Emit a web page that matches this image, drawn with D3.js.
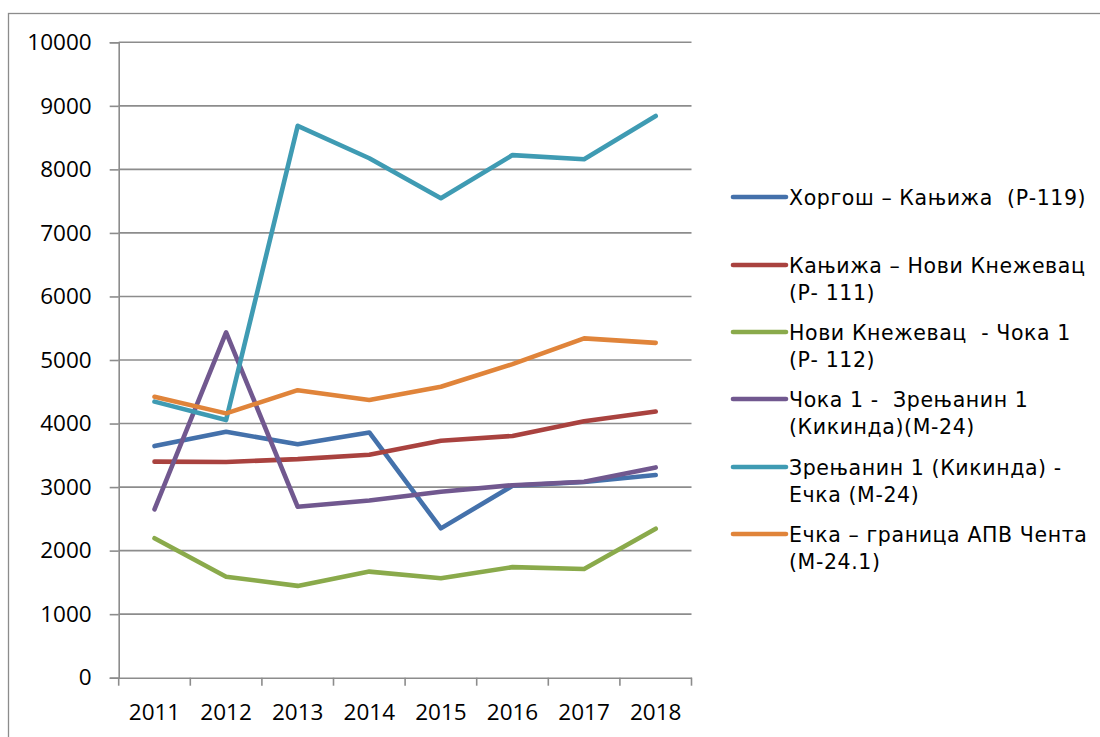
<!DOCTYPE html>
<html>
<head>
<meta charset="utf-8">
<script src="https://cdn.jsdelivr.net/npm/d3@7"></script>
<style>
  html, body { margin: 0; padding: 0; background: #fff; }
  svg { display: block; }
</style>
</head>
<body>
<svg id="chart" width="1100" height="737"></svg>
<script>
// Traffic counts by road section, 2011–2018
const years = ["2011", "2012", "2013", "2014", "2015", "2016", "2017", "2018"];
const yTicks = [0, 1000, 2000, 3000, 4000, 5000, 6000, 7000, 8000, 9000, 10000];

const horgosKanjiza     = [3645, 3870, 3675, 3860, 2350, 3020, 3080, 3190];
const kanjizaNoviKnez   = [3400, 3395, 3440, 3510, 3730, 3805, 4035, 4190];
const noviKnezCoka      = [2195, 1590, 1445, 1670, 1565, 1740, 1710, 2345];
const cokaZrenjanin     = [2650, 5435, 2690, 2790, 2927, 3030, 3085, 3310];
const zrenjaninEcka     = [4345, 4055, 8685, 8175, 7545, 8225, 8160, 8840];
const eckaGranica       = [4420, 4160, 4525, 4370, 4580, 4935, 5340, 5270];

const seriesNames = [
  ["Хоргош – Кањижа  (Р-119)"],
  ["Кањижа – Нови Кнежевац", "(Р- 111)"],
  ["Нови Кнежевац  - Чока 1", "(Р- 112)"],
  ["Чока 1 -  Зрењанин 1", "(Кикинда)(М-24)"],
  ["Зрењанин 1 (Кикинда) -", "Ечка (М-24)"],
  ["Ечка – граница АПВ Чента", "(М-24.1)"]
];
const seriesColors = ["#4471AB", "#A9423F", "#8AAA4B", "#71588F", "#3F9BB3", "#E0843A"];
const seriesValues = [horgosKanjiza, kanjizaNoviKnez, noviKnezCoka, cokaZrenjanin, zrenjaninEcka, eckaGranica];

const svg = d3.select("#chart");
const gridColor = "#8c8c8c";

// outer frame (extends past the right/bottom edges)
svg.append("rect")
  .attr("x", 8.5).attr("y", 13.5)
  .attr("width", 1200).attr("height", 800)
  .attr("fill", "none").attr("stroke", "#8c8c8c").attr("stroke-width", 1.3);

const plot = { left: 118.7, right: 691.5, top: 42.3, bottom: 677.7 };

const x = d3.scaleBand().domain(years).range([plot.left, plot.right]).padding(0);
const y = d3.scaleLinear().domain([0, 10000]).range([plot.bottom, plot.top]);

// horizontal gridlines
svg.append("g")
  .selectAll("line")
  .data(yTicks.filter(d => d > 0))
  .join("line")
  .attr("x1", plot.left).attr("x2", plot.right)
  .attr("y1", d => y(d)).attr("y2", d => y(d))
  .attr("stroke", gridColor).attr("stroke-width", 1.6);

// y axis
const yAxis = svg.append("g")
  .attr("transform", `translate(${plot.left},0)`)
  .call(d3.axisLeft(y).tickValues(yTicks).tickSize(9).tickPadding(18).tickFormat(d3.format("d")));
yAxis.select(".domain").attr("stroke", gridColor).attr("stroke-width", 1.6);
yAxis.selectAll(".tick line").attr("stroke", gridColor).attr("stroke-width", 1.6);
yAxis.selectAll(".tick text")
  .attr("font-family", "'Open Sans', sans-serif").attr("font-size", 22.5).attr("fill", "#000");

// x axis with ticks on category boundaries
const xAxis = svg.append("g")
  .attr("transform", `translate(0,${plot.bottom})`)
  .call(d3.axisBottom(x).tickSize(0).tickPadding(26));
xAxis.select(".domain").attr("stroke", gridColor).attr("stroke-width", 1.6);
xAxis.selectAll(".tick text")
  .attr("font-family", "'Open Sans', sans-serif").attr("font-size", 22.5).attr("fill", "#000");
xAxis.selectAll("line.boundary")
  .data(years.map(d => x(d)).concat([x(years[years.length - 1]) + x.bandwidth()]))
  .join("line")
  .attr("class", "boundary")
  .attr("x1", d => d).attr("x2", d => d)
  .attr("y1", 0).attr("y2", 8)
  .attr("stroke", gridColor).attr("stroke-width", 1.6);

// series lines
const line = d3.line()
  .x((d, i) => x(years[i]) + x.bandwidth() / 2)
  .y(d => y(d));

svg.append("g")
  .selectAll("path")
  .data(seriesValues)
  .join("path")
  .attr("d", d => line(d))
  .attr("fill", "none")
  .attr("stroke", (d, i) => seriesColors[i])
  .attr("stroke-width", 4.6)
  .attr("stroke-linejoin", "round")
  .attr("stroke-linecap", "round");

// legend
const legendY = [197, 265, 332, 399, 467, 534];
const legend = svg.append("g");
seriesNames.forEach((lines, i) => {
  const g = legend.append("g").attr("transform", `translate(0,${legendY[i]})`);
  g.append("line")
    .attr("x1", 733).attr("x2", 786)
    .attr("y1", 0).attr("y2", 0)
    .attr("stroke", seriesColors[i]).attr("stroke-width", 4.6)
    .attr("stroke-linecap", "round");
  const t = g.append("text")
    .attr("x", 789).attr("y", 8)
    .attr("font-family", "'DejaVu Sans', Verdana, sans-serif")
    .attr("font-size", 20.5).attr("letter-spacing", 0.6).attr("fill", "#000")
    .attr("xml:space", "preserve");
  lines.forEach((s, k) => {
    t.append("tspan").attr("x", 789).attr("dy", k === 0 ? 0 : 27).text(s);
  });
});
</script>
</body>
</html>
